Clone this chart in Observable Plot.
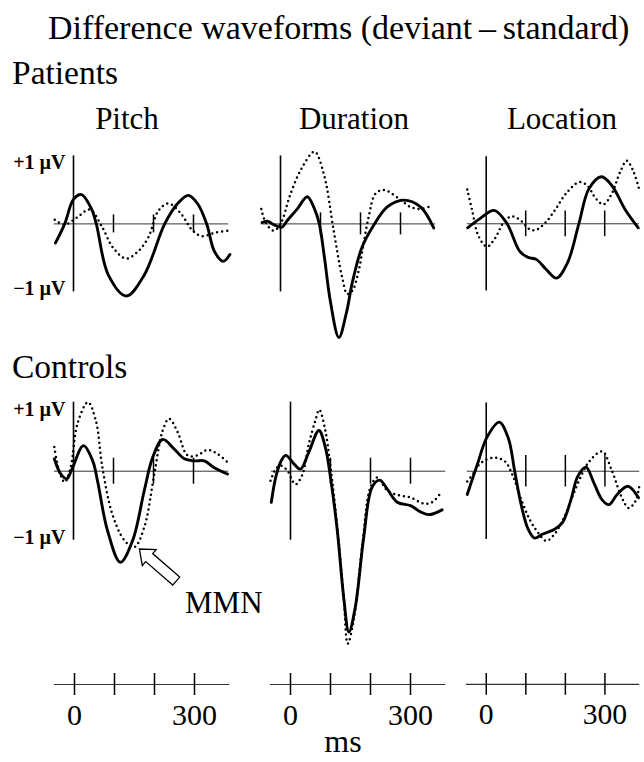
<!DOCTYPE html>
<html><head><meta charset="utf-8">
<script src="https://cdn.jsdelivr.net/npm/d3@7"></script>
<script src="https://cdn.jsdelivr.net/npm/@observablehq/plot@0.6"></script>
<style>
body{margin:0;background:#fff;}
#root{position:relative;width:644px;height:762px;overflow:hidden;background:#fff;font-family:"Liberation Serif","Times New Roman",serif;color:#000;}
.t{position:absolute;white-space:nowrap;line-height:1;}
.p{position:absolute;}
.p svg{overflow:visible;}
</style></head><body><div id="root"></div>
<script>
// ---------- data (time in ms, amplitude in µV) ----------
const title = "Difference waveforms (deviant\u2009\u2013\u2009standard)";
const groups = ["Patients", "Controls"];
const conditions = ["Pitch", "Duration", "Location"];
const timeTicks = [0, 100, 200, 300];
const timeTickLabels = ["0", "", "", "300"];
const timeUnit = "ms";
const ampTicks = [1, -1];
const ampTickLabels = ["+1 \u00b5V", "\u22121 \u00b5V"];
const annotation = "MMN";

const patientsPitchSolid = [[-45,-0.28],[-22,0],[0,0.36],[20,0.43],[45,0.22],[57,0],[87,-0.75],[132,-1.06],[177,-0.75],[228,0],[262,0.31],[287,0.42],[310,0.3],[333,0],[352,-0.4],[374,-0.55],[391,-0.45]];
const patientsPitchDotted = [[-47,0.06],[-22,-0.01],[8,0.09],[41,0.21],[70,-0.03],[100,-0.36],[132,-0.51],[162,-0.4],[187,-0.2],[212,0.19],[237,0.30],[270,0.14],[295,-0.08],[320,-0.18],[353,-0.13],[387,-0.10]];

const patientsDurationSolid = [[-46,0.02],[-33,0.04],[-17,-0.01],[3,-0.05],[17,0.05],[42,0.22],[67,0.40],[85,0.22],[97,0],[110,-0.5],[125,-1.15],[146,-1.67],[165,-1.3],[180,-0.85],[204,-0.34],[233,-0.02],[267,0.25],[308,0.35],[350,0.25],[383,-0.06]];
const patientsDurationDotted = [[-48,0.22],[-37,0.02],[-17,-0.10],[0,0],[25,0.44],[54,0.83],[85,1.06],[108,0.74],[133,-0.10],[154,-0.78],[167,-1.03],[180,-0.98],[195,-0.7],[206,-0.35],[221,0.12],[237,0.44],[258,0.5],[292,0.39],[325,0.25],[350,0.22],[371,0.25]];

const patientsLocationSolid = [[-47,-0.06],[-15,0.08],[20,0.2],[52,0.01],[85,-0.41],[106,-0.50],[127,-0.53],[152,-0.68],[178,-0.81],[206,-0.58],[235,0.01],[260,0.52],[292,0.70],[318,0.57],[352,0.21],[385,-0.06]];
const patientsLocationDotted = [[-48,0.51],[-36,0.21],[-19,-0.19],[2,-0.34],[23,-0.21],[43,0.01],[64,0.11],[85,0.06],[110,-0.08],[127,-0.09],[152,0.03],[177,0.23],[202,0.45],[235,0.62],[256,0.57],[277,0.38],[297,0.29],[318,0.45],[339,0.77],[356,0.94],[372,0.79],[387,0.52]];

const controlsPitchSolid = [[-48,0.18],[-32,-0.04],[-17,-0.11],[-4,0.03],[25,0.37],[48,0.15],[60,-0.14],[85,-0.86],[117,-1.32],[148,-1.0],[177,-0.28],[198,0.2],[223,0.46],[252,0.32],[277,0.18],[302,0.15],[327,0.15],[352,0.05],[385,-0.04]];
const controlsPitchDotted = [[-48,0.35],[-36,0.01],[-22,-0.16],[-7,0.06],[10,0.69],[36,1.0],[56,0.73],[72,0.06],[97,-0.62],[127,-1.0],[152,-1.10],[177,-0.81],[202,-0.04],[223,0.59],[239,0.76],[260,0.57],[285,0.23],[310,0.23],[335,0.31],[360,0.25],[389,0.11]];

const controlsDurationSolid = [[-48,-0.45],[-37,-0.09],[-25,0.13],[-12,0.23],[8,0.11],[25,0.03],[46,0.28],[71,0.59],[87,0.35],[100,-0.09],[117,-0.86],[133,-1.83],[146,-2.33],[162,-1.97],[183,-0.96],[204,-0.23],[223,-0.13],[242,-0.26],[267,-0.45],[300,-0.50],[325,-0.59],[346,-0.63],[379,-0.56]];
const controlsDurationDotted = [[-50,-0.14],[-37,0.03],[-25,0.08],[-8,0.01],[12,-0.19],[29,-0.06],[46,0.40],[62,0.73],[72,0.89],[87,0.59],[100,0.06],[117,-0.81],[133,-1.83],[143,-2.5],[158,-2.16],[179,-1.10],[200,-0.23],[217,-0.09],[242,-0.28],[271,-0.35],[300,-0.38],[333,-0.47],[354,-0.45],[375,-0.32]];

const controlsLocationSolid = [[-48,-0.34],[-23,0.09],[2,0.5],[33,0.72],[56,0.48],[72,0],[89,-0.51],[106,-0.85],[122,-0.98],[143,-0.92],[173,-0.85],[193,-0.75],[214,-0.42],[231,-0.08],[252,0.06],[272,-0.17],[293,-0.42],[310,-0.49],[331,-0.34],[358,-0.22],[385,-0.39]];
const controlsLocationDotted = [[-48,-0.15],[-32,-0.03],[-19,0.09],[-3,0.16],[23,0.2],[48,0.14],[68,-0.08],[89,-0.42],[110,-0.71],[131,-0.9],[152,-1.02],[173,-0.92],[198,-0.66],[218,-0.37],[239,-0.08],[260,0.14],[293,0.29],[318,0],[343,-0.39],[360,-0.54],[377,-0.44],[387,-0.21]];

// MMN arrow: tail and tip in (ms, µV) of the Controls/Pitch panel
const mmnArrowFrom = [258, -1.60];
const mmnArrowTo = [166, -1.135];

// ---------- layout ----------
const FONT = '"Liberation Serif","Times New Roman",serif';
const root = document.getElementById("root");
const PX_PER_MS = 0.4;
const X_DOMAIN = [-60, 400];
const LINE_X = [-48, 388];

function addText(str, {left, center, baseline, size, weight = "normal"}) {
  const d = document.createElement("div");
  d.className = "t";
  d.textContent = str;
  d.style.fontSize = size + "px";
  d.style.fontWeight = weight;
  d.style.top = (baseline - 0.8375 * size) + "px";
  if (center != null) { d.style.left = center + "px"; d.style.transform = "translateX(-50%)"; }
  else d.style.left = left + "px";
  root.appendChild(d);
}

function hollowArrow(from, to) {
  return (index, scales) => {
    const x1 = scales.x(from[0]), y1 = scales.y(from[1]);
    const x2 = scales.x(to[0]), y2 = scales.y(to[1]);
    const dx = x2 - x1, dy = y2 - y1, L = Math.hypot(dx, dy);
    const ux = dx / L, uy = dy / L, nx = -uy, ny = ux;
    const head = 13, hw = 10.5, sw = 5.3;
    const bx = x2 - ux * head, by = y2 - uy * head;
    const pts = [[x1 + nx * sw, y1 + ny * sw], [bx + nx * sw, by + ny * sw], [bx + nx * hw, by + ny * hw], [x2, y2],
                 [bx - nx * hw, by - ny * hw], [bx - nx * sw, by - ny * sw], [x1 - nx * sw, y1 - ny * sw]];
    return d3.create("svg:path")
      .attr("d", "M" + pts.map(p => p.join(",")).join("L") + "Z")
      .attr("fill", "#fff").attr("stroke", "#000").attr("stroke-width", 1.3)
      .node();
  };
}

function panel({solid, dotted, x0, y0, k, yDom, ml = 0, labels = false, tickLen = 11, extra = []}) {
  const w = ml + (X_DOMAIN[1] - X_DOMAIN[0]) * PX_PER_MS;
  const h = (yDom[1] - yDom[0]) * k;
  const marks = [
    Plot.ruleY([0], {x1: LINE_X[0], x2: LINE_X[1], stroke: "#333", strokeWidth: 1}),
    Plot.ruleX([0], {y1: -1, y2: 1, stroke: "#000", strokeWidth: 1.6}),
    Plot.ruleX(timeTicks.slice(1), {y1: -tickLen / k, y2: tickLen / k, stroke: "#000", strokeWidth: 1.5}),
    Plot.line(dotted, {x: d => d[0], y: d => d[1], curve: "catmull-rom", stroke: "#000", strokeWidth: 2.5, strokeDasharray: "0,5", strokeLinecap: "round"}),
    Plot.line(solid, {x: d => d[0], y: d => d[1], curve: "catmull-rom", stroke: "#000", strokeWidth: 2.9, strokeLinejoin: "round"}),
    ...extra
  ];
  if (labels) {
    marks.push(Plot.text([ampTicks[0]], {x: 0, y: d => d, text: () => ampTickLabels[0], textAnchor: "end", dx: -8, dy: 7, lineAnchor: "middle", fontSize: 20, fontWeight: "bold", fill: "#000"}));
    marks.push(Plot.text([ampTicks[1]], {x: 0, y: d => d, text: () => ampTickLabels[1], textAnchor: "end", dx: -8, dy: -3, lineAnchor: "middle", fontSize: 20, fontWeight: "bold", fill: "#000"}));
  }
  const svg = Plot.plot({
    width: w, height: h, margin: 0,
    x: {domain: X_DOMAIN, range: [ml, w], axis: null},
    y: {domain: yDom, range: [h, 0], axis: null},
    style: {background: "transparent", overflow: "visible", fontFamily: FONT},
    marks
  });
  const wrap = document.createElement("div");
  wrap.className = "p";
  wrap.style.left = (x0 - ml + X_DOMAIN[0] * PX_PER_MS) + "px";
  wrap.style.top = (y0 - yDom[1] * k) + "px";
  wrap.appendChild(svg);
  root.appendChild(wrap);
}

function timeAxis(x0, yLine) {
  const tl = 11;
  const w = (X_DOMAIN[1] - X_DOMAIN[0]) * PX_PER_MS, h = 2 * tl;
  const svg = Plot.plot({
    width: w, height: h, margin: 0,
    x: {domain: X_DOMAIN, range: [0, w], axis: null},
    y: {domain: [-1, 1], range: [h, 0], axis: null},
    style: {background: "transparent", overflow: "visible", fontFamily: FONT},
    marks: [
      Plot.ruleY([0], {x1: -50, x2: 388, stroke: "#333", strokeWidth: 1.2}),
      Plot.ruleX(timeTicks, {y1: -1, y2: 1, stroke: "#000", strokeWidth: 1.5}),
      Plot.text(timeTicks, {x: d => d, y: -1, text: (d, i) => timeTickLabels[i], lineAnchor: "top", dy: 8, fontSize: 30, fill: "#000"})
    ]
  });
  const wrap = document.createElement("div");
  wrap.className = "p";
  wrap.style.left = (x0 + X_DOMAIN[0] * PX_PER_MS) + "px";
  wrap.style.top = (yLine - tl) + "px";
  wrap.appendChild(svg);
  root.appendChild(wrap);
}

// headings
addText(title, {left: 48, baseline: 39, size: 34});
addText(groups[0], {left: 12, baseline: 84, size: 33.5});
addText(conditions[0], {center: 127, baseline: 129, size: 31});
addText(conditions[1], {center: 354, baseline: 129, size: 31});
addText(conditions[2], {center: 562, baseline: 129, size: 31});
addText(groups[1], {left: 12, baseline: 378, size: 33.5});
addText(annotation, {left: 185, baseline: 613, size: 31});
addText(timeUnit, {center: 343, baseline: 752, size: 32});

// panels
const PY = [-1.9, 1.3], CY = [-2.7, 1.3];
panel({solid: patientsPitchSolid, dotted: patientsPitchDotted, x0: 72.7, y0: 223, k: 68, yDom: PY, ml: 64, labels: true, tickLen: 9});
panel({solid: patientsDurationSolid, dotted: patientsDurationDotted, x0: 280.3, y0: 223.3, k: 68, yDom: PY, tickLen: 11});
panel({solid: patientsLocationSolid, dotted: patientsLocationDotted, x0: 486.3, y0: 224, k: 68, yDom: PY, tickLen: 13});
panel({solid: controlsPitchSolid, dotted: controlsPitchDotted, x0: 72.7, y0: 471, k: 69, yDom: CY, ml: 64, labels: true, tickLen: 13,
       extra: [hollowArrow(mmnArrowFrom, mmnArrowTo)]});
panel({solid: controlsDurationSolid, dotted: controlsDurationDotted, x0: 290, y0: 471, k: 69, yDom: CY, tickLen: 13});
panel({solid: controlsLocationSolid, dotted: controlsLocationDotted, x0: 486, y0: 471.3, k: 69, yDom: CY, tickLen: 16});

// time axes
timeAxis(74, 684);
timeAxis(290, 684);
timeAxis(486, 684);
</script></body></html>
